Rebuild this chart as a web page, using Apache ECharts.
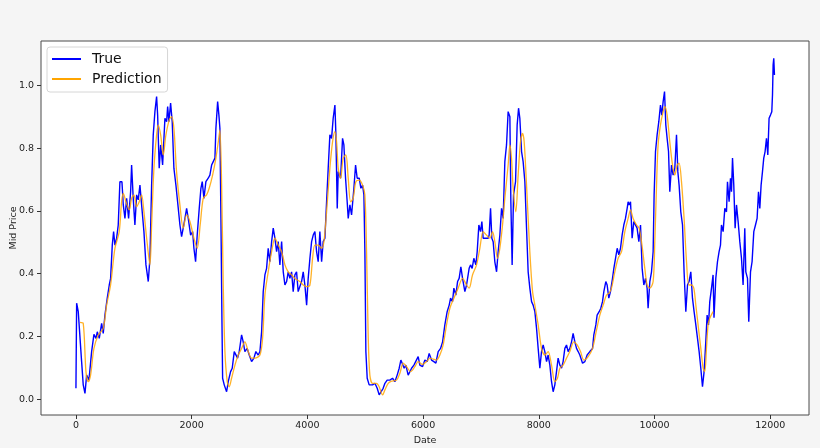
<!DOCTYPE html>
<html>
<head>
<meta charset="utf-8">
<script src="https://cdn.jsdelivr.net/npm/echarts@6/dist/echarts.min.js"></script>
<style>
html,body{margin:0;padding:0;background:#f5f5f5;}
#chart{width:820px;height:448px;}
</style>
</head>
<body>
<div id="chart"></div>
<script>
// ---- data ----
const seriesNames = ["True", "Prediction"];
const xTicks = [0, 2000, 4000, 6000, 8000, 10000, 12000];
const yTicks = [0.0, 0.2, 0.4, 0.6, 0.8, 1.0];

const trueX = [0,12,40,98,126,156,185,225,271,311,346,369,403,444,472,501,541,576,599,628,651,674,703,731,760,795,818,847,876,910,945,962,990,1019,1049,1077,1106,1135,1175,1210,1250,1279,1308,1336,1365,1394,1412,1439,1464,1498,1538,1567,1585,1607,1636,1664,1693,1728,1757,1797,1826,1854,1884,1913,1941,1982,2017,2039,2068,2096,2131,2160,2183,2212,2246,2286,2315,2345,2373,2402,2419,2449,2471,2488,2506,2523,2535,2563,2604,2632,2673,2701,2736,2765,2794,2822,2863,2891,2920,2960,2995,3036,3076,3110,3150,3180,3209,3237,3266,3295,3323,3352,3382,3410,3439,3468,3496,3525,3555,3583,3612,3641,3669,3698,3727,3755,3784,3813,3841,3871,3900,3928,3957,3987,4014,4044,4073,4101,4130,4159,4187,4216,4246,4273,4303,4332,4360,4389,4418,4446,4476,4493,4516,4533,4574,4608,4631,4660,4688,4706,4735,4764,4804,4833,4861,4896,4925,4954,4977,4994,5011,5034,5068,5127,5167,5207,5241,5270,5310,5340,5379,5426,5472,5512,5552,5587,5616,5645,5673,5702,5742,5772,5801,5841,5875,5915,5944,5991,6031,6071,6105,6146,6186,6221,6261,6302,6337,6376,6416,6451,6475,6509,6532,6566,6596,6623,6653,6682,6722,6751,6796,6820,6848,6877,6912,6935,6964,6993,7016,7038,7085,7125,7142,7166,7188,7211,7240,7270,7297,7327,7356,7384,7413,7442,7470,7500,7517,7539,7563,7598,7626,7650,7672,7702,7729,7759,7788,7816,7845,7875,7902,7932,7961,7989,8018,8047,8075,8104,8134,8161,8191,8220,8248,8277,8306,8334,8364,8393,8420,8450,8479,8507,8536,8566,8593,8623,8652,8680,8709,8756,8796,8835,8882,8929,8951,8986,9008,9043,9072,9101,9124,9158,9181,9210,9239,9274,9297,9326,9355,9383,9412,9440,9469,9498,9527,9544,9561,9585,9613,9642,9671,9699,9729,9758,9786,9815,9844,9872,9889,9919,9948,9976,9993,10017,10045,10074,10103,10126,10149,10173,10195,10218,10242,10264,10294,10321,10351,10380,10403,10425,10454,10484,10511,10541,10570,10597,10627,10656,10684,10714,10743,10771,10800,10829,10857,10886,10909,10933,10955,10985,11012,11028,11059,11088,11116,11140,11157,11186,11215,11244,11261,11289,11313,11330,11348,11370,11393,11417,11445,11474,11503,11531,11560,11578,11607,11629,11659,11686,11716,11745,11773,11797,11820,11842,11866,11888,11911,11935,11958,11980,12004,12027,12039,12050,12061,12073];
const trueY = [0.035,0.306,0.279,0.12,0.046,0.019,0.077,0.061,0.152,0.207,0.194,0.215,0.194,0.242,0.21,0.268,0.322,0.364,0.385,0.491,0.534,0.491,0.513,0.555,0.693,0.693,0.619,0.576,0.64,0.576,0.661,0.746,0.64,0.555,0.651,0.635,0.682,0.619,0.534,0.428,0.375,0.449,0.682,0.842,0.916,0.964,0.905,0.736,0.81,0.746,0.895,0.884,0.932,0.884,0.943,0.884,0.736,0.682,0.629,0.555,0.518,0.545,0.576,0.608,0.576,0.523,0.534,0.481,0.438,0.523,0.608,0.672,0.693,0.64,0.693,0.704,0.714,0.746,0.757,0.768,0.863,0.948,0.905,0.863,0.576,0.258,0.067,0.046,0.024,0.056,0.088,0.099,0.152,0.152,0.131,0.152,0.205,0.183,0.152,0.162,0.141,0.12,0.131,0.152,0.141,0.152,0.215,0.343,0.396,0.417,0.481,0.438,0.502,0.545,0.513,0.47,0.502,0.428,0.502,0.406,0.364,0.375,0.406,0.385,0.406,0.343,0.396,0.406,0.343,0.343,0.375,0.406,0.364,0.30,0.385,0.449,0.502,0.523,0.534,0.47,0.438,0.534,0.438,0.502,0.513,0.629,0.736,0.842,0.831,0.895,0.937,0.842,0.608,0.725,0.704,0.831,0.81,0.704,0.629,0.576,0.619,0.587,0.672,0.746,0.704,0.704,0.672,0.682,0.651,0.47,0.152,0.067,0.046,0.046,0.051,0.035,0.014,0.008,0.035,0.051,0.061,0.061,0.067,0.056,0.077,0.099,0.125,0.12,0.099,0.109,0.077,0.077,0.099,0.109,0.115,0.136,0.109,0.104,0.125,0.12,0.146,0.125,0.12,0.115,0.152,0.162,0.183,0.237,0.279,0.30,0.322,0.311,0.354,0.332,0.375,0.385,0.422,0.385,0.343,0.364,0.417,0.428,0.417,0.449,0.428,0.47,0.555,0.534,0.566,0.513,0.513,0.513,0.523,0.608,0.513,0.502,0.438,0.406,0.47,0.523,0.608,0.576,0.757,0.81,0.916,0.90,0.629,0.428,0.651,0.693,0.874,0.927,0.895,0.789,0.757,0.693,0.545,0.406,0.354,0.311,0.30,0.279,0.226,0.162,0.099,0.152,0.173,0.152,0.12,0.141,0.109,0.056,0.024,0.046,0.088,0.131,0.109,0.099,0.12,0.162,0.173,0.152,0.162,0.183,0.21,0.183,0.162,0.152,0.141,0.115,0.12,0.141,0.152,0.162,0.205,0.237,0.268,0.279,0.29,0.311,0.343,0.375,0.364,0.322,0.343,0.385,0.417,0.449,0.481,0.46,0.481,0.523,0.555,0.576,0.608,0.629,0.619,0.629,0.513,0.566,0.566,0.545,0.502,0.555,0.417,0.364,0.385,0.354,0.29,0.375,0.406,0.47,0.651,0.789,0.842,0.884,0.937,0.905,0.948,0.98,0.874,0.831,0.789,0.661,0.746,0.714,0.736,0.842,0.725,0.682,0.597,0.555,0.406,0.279,0.364,0.375,0.406,0.322,0.279,0.237,0.194,0.152,0.099,0.04,0.088,0.183,0.268,0.237,0.311,0.354,0.396,0.26,0.385,0.438,0.47,0.491,0.555,0.534,0.608,0.597,0.693,0.629,0.704,0.661,0.768,0.682,0.545,0.619,0.566,0.502,0.449,0.364,0.545,0.406,0.385,0.247,0.406,0.438,0.534,0.555,0.576,0.661,0.608,0.682,0.725,0.768,0.789,0.831,0.778,0.895,0.905,0.916,0.969,1.065,1.086,1.033];

const predX = [70,126,173,213,253,311,386,472,530,599,674,748,789,818,864,921,962,1002,1049,1094,1135,1175,1222,1279,1308,1348,1394,1422,1464,1509,1555,1612,1653,1693,1739,1797,1854,1913,1970,2039,2096,2150,2200,2258,2303,2362,2419,2460,2488,2518,2546,2575,2615,2649,2690,2748,2805,2863,2920,2978,3036,3093,3180,3226,3266,3323,3382,3439,3496,3555,3612,3669,3727,3784,3871,3928,3987,4044,4090,4130,4187,4246,4286,4332,4389,4435,4476,4505,4533,4574,4619,4666,4706,4747,4792,4838,4896,4954,4994,5023,5051,5080,5127,5196,5241,5300,5340,5397,5455,5541,5599,5656,5714,5784,5858,5915,5991,6060,6117,6175,6233,6290,6347,6405,6463,6532,6606,6682,6751,6796,6854,6924,6981,7038,7096,7154,7200,7240,7287,7327,7373,7413,7470,7500,7528,7557,7603,7643,7684,7719,7747,7788,7845,7892,7932,7989,8047,8104,8161,8220,8277,8323,8364,8420,8479,8536,8605,8663,8721,8778,8853,8929,8997,9055,9112,9170,9215,9256,9314,9371,9430,9487,9544,9585,9630,9689,9734,9775,9832,9872,9919,9976,10005,10035,10062,10103,10149,10178,10218,10264,10311,10351,10391,10425,10466,10511,10553,10593,10639,10679,10714,10753,10800,10840,10869,10898,10926,10955,11012];
const predY = [0.245,0.242,0.088,0.056,0.077,0.162,0.205,0.226,0.30,0.364,0.481,0.534,0.629,0.656,0.629,0.603,0.64,0.651,0.613,0.629,0.651,0.597,0.513,0.428,0.555,0.736,0.842,0.874,0.842,0.778,0.842,0.889,0.90,0.863,0.725,0.619,0.545,0.587,0.566,0.513,0.481,0.56,0.64,0.651,0.672,0.714,0.768,0.82,0.858,0.682,0.364,0.152,0.056,0.04,0.067,0.109,0.141,0.162,0.183,0.152,0.131,0.131,0.141,0.194,0.332,0.406,0.47,0.513,0.491,0.47,0.428,0.406,0.396,0.385,0.375,0.364,0.359,0.364,0.449,0.491,0.491,0.481,0.502,0.597,0.736,0.82,0.852,0.82,0.736,0.704,0.768,0.778,0.704,0.629,0.64,0.693,0.698,0.682,0.651,0.47,0.205,0.077,0.051,0.051,0.04,0.014,0.03,0.051,0.058,0.061,0.083,0.115,0.104,0.088,0.104,0.12,0.111,0.12,0.131,0.128,0.125,0.141,0.173,0.237,0.29,0.322,0.354,0.385,0.364,0.354,0.396,0.428,0.481,0.534,0.523,0.513,0.534,0.502,0.449,0.481,0.555,0.64,0.746,0.81,0.768,0.672,0.597,0.714,0.82,0.847,0.82,0.682,0.47,0.343,0.30,0.237,0.162,0.141,0.152,0.109,0.056,0.067,0.099,0.109,0.131,0.152,0.183,0.173,0.152,0.125,0.136,0.162,0.22,0.268,0.30,0.332,0.338,0.354,0.406,0.449,0.47,0.534,0.576,0.603,0.576,0.555,0.545,0.502,0.417,0.364,0.354,0.375,0.502,0.682,0.81,0.874,0.916,0.932,0.905,0.82,0.746,0.714,0.746,0.752,0.693,0.576,0.438,0.364,0.364,0.354,0.30,0.237,0.162,0.099,0.088,0.162,0.237,0.258,0.279];

const trueData = trueX.map((x, i) => [x, trueY[i]]);
const predData = predX.map((x, i) => [x, predY[i]]);

const font = 'DejaVu Sans, sans-serif';
const chart = echarts.init(document.getElementById('chart'), null, {renderer: 'canvas'});
chart.setOption({
  animation: false,
  backgroundColor: '#f5f5f5',
  grid: {
    left: 41, right: 11, top: 41, bottom: 33,
    containLabel: false, outerBoundsMode: 'none',
    show: true, backgroundColor: '#ffffff', borderColor: '#4a4a4a', borderWidth: 1
  },
  legend: {
    data: seriesNames,
    orient: 'vertical',
    left: 47, top: 47,
    backgroundColor: '#ffffff',
    borderColor: '#d6d6d6', borderWidth: 1, borderRadius: 3,
    padding: [4, 6, 5, 5],
    itemWidth: 29, itemHeight: 2, itemGap: 4,
    icon: 'rect',
    textStyle: {fontFamily: font, fontSize: 14, color: '#111', lineHeight: 16, padding: [0, 0, 0, 6]}
  },
  xAxis: {
    type: 'value', min: -604, max: 12670,
    name: 'Date', nameLocation: 'middle', nameGap: 14,
    nameTextStyle: {fontFamily: font, fontSize: 9.5, color: '#222'},
    axisLine: {show: false, onZero: false},
    splitLine: {show: false},
    axisTick: {show: true, length: 4, inside: false, customValues: xTicks, lineStyle: {color: '#333'}},
    axisLabel: {customValues: xTicks, margin: 6, fontFamily: font, fontSize: 9.5, color: '#222',
      formatter: v => String(Math.round(v))}
  },
  yAxis: {
    type: 'value', min: -0.05, max: 1.141,
    name: 'Mid Price', nameLocation: 'middle', nameGap: 22, nameRotate: 90, nameMoveOverlap: false,
    nameTextStyle: {fontFamily: font, fontSize: 9.5, color: '#222'},
    axisLine: {show: false, onZero: false},
    splitLine: {show: false},
    axisTick: {show: true, length: 4, inside: false, customValues: yTicks, lineStyle: {color: '#333'}},
    axisLabel: {customValues: yTicks, margin: 7, fontFamily: font, fontSize: 9.5, color: '#222',
      formatter: v => Number(v).toFixed(1)}
  },
  series: [
    {name: seriesNames[0], type: 'line', data: trueData, showSymbol: false, symbol: 'none',
     lineStyle: {color: '#0000ff', width: 1.4}, itemStyle: {color: '#0000ff'}, z: 2},
    {name: seriesNames[1], type: 'line', data: predData, showSymbol: false, symbol: 'none', smooth: 0.3,
     lineStyle: {color: '#ffa500', width: 1.3, opacity: 0.85}, itemStyle: {color: '#ffa500'}, z: 3}
  ]
});
</script>
</body>
</html>
